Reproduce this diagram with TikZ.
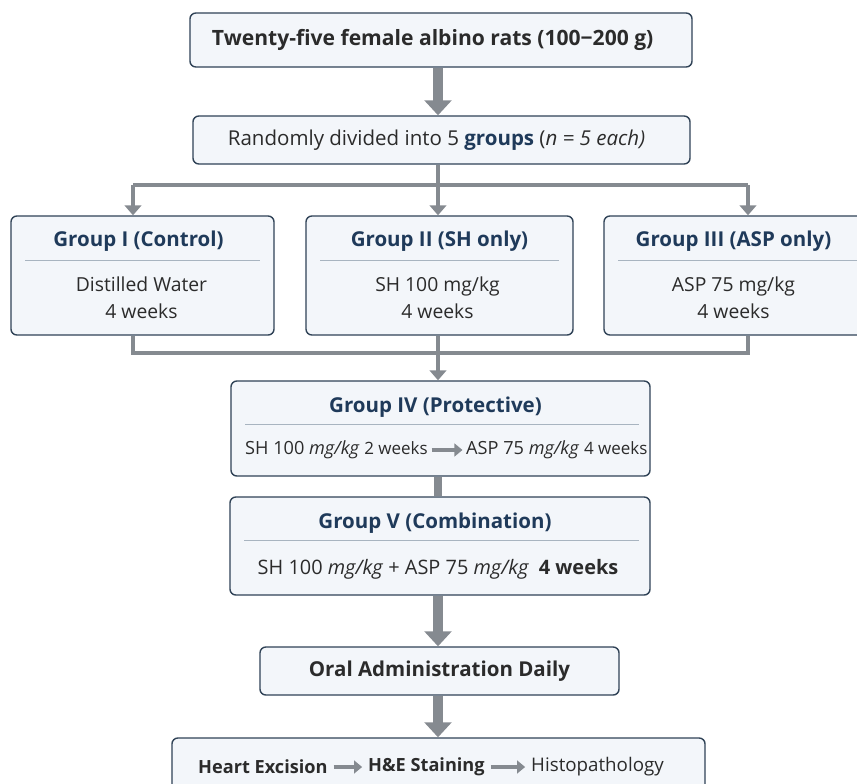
\documentclass[tikz,border=0pt]{standalone}
\usepackage{fontspec}
\setmainfont{Open Sans}
\usetikzlibrary{arrows.meta, positioning, calc}
\definecolor{boxline}{HTML}{2F4256}
\definecolor{boxfill}{HTML}{F3F6FA}
\definecolor{navy}{HTML}{1F3A5A}
\definecolor{txtdark}{HTML}{2B2B2B}
\definecolor{arrgray}{HTML}{858A90}
\definecolor{sepgray}{HTML}{A8B4C0}

\begin{document}
\begin{tikzpicture}[
      x=0.03cm, y=-0.03cm,
      box/.style={draw=boxline, line width=1.2pt, rounded corners=5pt, fill=boxfill,
                  inner sep=0pt, text=txtdark},
      wide/.style={box, font=\fontsize{17.5}{21}\selectfont},
      grp/.style={box, minimum height=3.57cm},
      head/.style={font=\fontsize{17.5}{21}\selectfont\bfseries, text=navy, inner sep=0pt},
      body/.style={font=\fontsize{16.5}{23}\selectfont, text=txtdark, align=center, inner sep=0pt},
      step txt/.style={font=\fontsize{16}{20}\selectfont, text=txtdark, inner sep=0pt},
      sepline/.style={sepgray, line width=1pt},
      bigarr/.style={-{Triangle[length=0.45cm, width=0.8cm]}, arrgray, line width=8pt},
      branch/.style={arrgray, line width=4pt},
      brarr/.style={branch, -{Triangle[length=0.3cm, width=0.5cm]}},
      inarr/.style={-{Triangle[length=0.24cm, width=0.38cm]}, arrgray, line width=2.6pt}
    ]
    \useasboundingbox (0,0) rectangle (857,784);

    % top of the flow
    \node[wide, minimum width=15.06cm, minimum height=1.62cm] (rats) at (441,40)
      {\fontsize{18}{21}\selectfont\bfseries Twenty-five female albino rats (100−200 g)\hspace*{0.5cm}};
    \node[wide, minimum width=14.91cm, minimum height=1.44cm] (rand) at (441.5,140)
      {Randomly divided into 5 \textcolor{navy}{\bfseries groups} (\textit{n = 5 each)}\hspace*{0.3cm}};
    \draw[bigarr] (rats.south -| 438,0) -- (rand.north -| 438,0);

    % the three single-agent groups
    \node[grp, minimum width=7.89cm] (g1) at (142.5,275.5) {};
    \node[grp, minimum width=8.01cm] (g2) at (439.5,275.5) {};
    \node[grp, minimum width=8.01cm] (g3) at (737.5,275.5) {};

    \node[head] (g1h) at ($(g1.north)+(-4,26)$) {Group I (Control)};
    \node[head] (g2h) at ($(g2.north)+(0,26)$) {Group II (SH only)};
    \node[head] (g3h) at ($(g3.north)+(-4,26)$) {Group III (ASP only)};
    \foreach \g in {g1,g2,g3}
      \draw[sepline] ($(\g.north west)+(15,45)$) -- ($(\g.north east)+(-15,45)$);
    \node[body] (g1b) at ($(g1.north)+(-1,82)$) {Distilled Water\\4 weeks};
    \node[body] (g2b) at ($(g2.north)+(-2,82)$) {SH 100 mg/kg\\4 weeks};
    \node[body] (g3b) at ($(g3.north)+(-4,82)$) {ASP 75 mg/kg\\4 weeks};

    % split into the groups
    \coordinate (split) at (438,185);
    \coordinate (b1) at (133,185);
    \coordinate (b3) at (748,185);
    \draw[branch] (rand.south -| split) -- (split);
    \draw[branch] (b1) -- (b3);
    \draw[brarr] (b1) -- (b1 |- g1.north);
    \draw[brarr] (split) -- (split |- g2.north);
    \draw[brarr] (b3) -- (b3 |- g3.north);

    % the two mixed groups
    \node[box, minimum width=12.57cm, minimum height=2.85cm] (g4) at (440.5,428.5) {};
    \node[head] (g4h) at ($(g4.north)+(-5,27)$) {Group IV (Protective)};
    \draw[sepline] ($(g4.north west)+(15,44)$) -- ($(g4.north east)+(-12,44)$);
    \node[step txt, anchor=east, font=\fontsize{15.5}{19}\selectfont] (g4a) at (428,450)
      {SH 100 \textit{mg/kg} {\fontsize{14.5}{16}\selectfont 2 weeks}};
    \node[step txt, anchor=west, font=\fontsize{15.5}{19}\selectfont] (g4b) at (466,450)
      {ASP 75 \textit{mg/kg} {\fontsize{14.5}{16}\selectfont 4 weeks}};
    \draw[inarr] ([xshift=3pt]g4a.east) -- ([xshift=-3pt]g4b.west);

    \node[box, minimum width=12.6cm, minimum height=2.94cm] (g5) at (440,546) {};
    \node[head] (g5h) at ($(g5.north)+(-5,27)$) {Group V (Combination)};
    \draw[sepline] ($(g5.north west)+(15,44)$) -- ($(g5.north east)+(-12,44)$);
    \node[step txt, font=\fontsize{17}{20}\selectfont] (g5b) at (438,569)
      {SH 100 \textit{mg/kg} + ASP 75 \textit{mg/kg}\enspace\textbf{4 weeks}};

    % join the groups
    \coordinate (join) at (438,353);
    \draw[branch] (b1 |- g1.south) -- (b1 |- join) -- (b3 |- join) -- (b3 |- g3.south);
    \draw[branch] (g2.south -| join) -- (join);
    \draw[brarr] (join) -- (join |- g4.north);
    \draw[arrgray, line width=7pt] (g4.south -| join) -- (g5.north -| join);

    % end of the flow
    \node[wide, minimum width=10.77cm, minimum height=1.44cm] (oral) at (439.5,671)
      {\bfseries Oral Administration Daily};
    \node[box, minimum width=15.99cm, minimum height=1.92cm] (final) at (438.5,770) {};
    \draw[bigarr] (g5.south -| join) -- (oral.north -| join);
    \draw[bigarr] (oral.south -| join) -- (final.north -| join);

    \node[step txt, anchor=west, font=\fontsize{15.5}{19}\selectfont\bfseries] (excis) at (198,767) {Heart Excision};
    \node[step txt, anchor=west, font=\fontsize{15.5}{19}\selectfont\bfseries] (stain) at (368,767) {H\&E Staining};
    \node[step txt, anchor=west] (histo) at (531,767) {Histopathology};
    \draw[inarr] ([xshift=5pt]excis.east) -- ([xshift=-5pt]stain.west);
    \draw[inarr] ([xshift=5pt]stain.east) -- ([xshift=-5pt]histo.west);
  \end{tikzpicture}
\end{document}
